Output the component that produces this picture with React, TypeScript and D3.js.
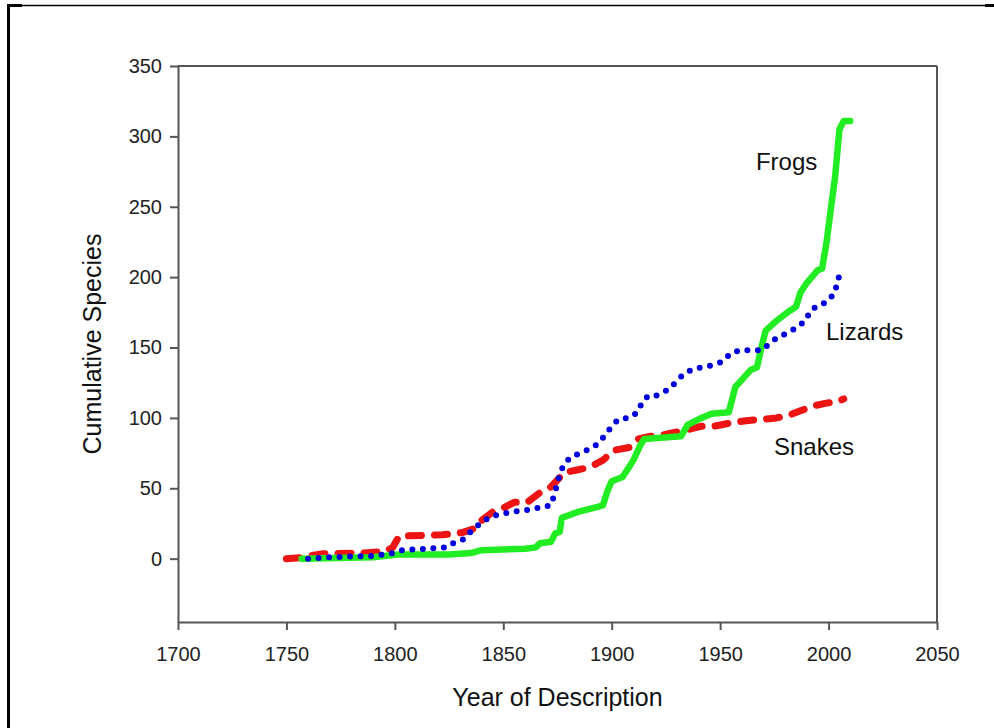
import React, { useEffect, useRef } from "react";
import * as d3 from "d3";

const frogYears = [1757, 1790, 1801, 1825, 1835, 1840, 1860, 1865, 1867, 1872, 1874, 1876, 1877, 1884, 1894, 1896, 1898, 1900, 1905, 1908, 1910, 1913, 1915, 1932, 1935, 1940, 1946, 1954, 1957, 1960, 1964, 1967, 1969, 1971, 1976, 1982, 1985, 1987, 1990, 1995, 1997, 1999, 2001, 2003, 2005, 2007, 2010];
const frogCounts = [0, 1, 3, 3, 4, 6, 7, 8, 11, 12, 18, 19, 29, 33, 37, 38, 48, 55, 58, 65, 70, 80, 85, 87, 95, 99, 103, 104, 122, 127, 134, 136, 150, 162, 169, 176, 179, 189, 196, 205, 206, 224, 248, 271, 305, 311, 311];

const lizardYears = [1760, 1770, 1790, 1799, 1803, 1824, 1827, 1832, 1836, 1844, 1853, 1863, 1872, 1874, 1876, 1878, 1881, 1890, 1894, 1900, 1903, 1908, 1912, 1914, 1917, 1921, 1926, 1930, 1933, 1938, 1942, 1948, 1951, 1955, 1959, 1969, 1973, 1977, 1981, 1986, 1990, 1991, 1995, 1999, 2003, 2004, 2006];
const lizardCounts = [0, 1, 2, 4, 6, 8, 11, 14, 21, 30, 33, 35, 38, 48, 60, 67, 72, 78, 82, 94, 99, 100, 104, 111, 116, 116, 120, 126, 131, 135, 136, 138, 140, 146, 148, 148, 153, 158, 160, 165, 170, 175, 180, 182, 189, 197, 205];

const snakeYears = [1750, 1759, 1761, 1767, 1785, 1795, 1799, 1802, 1822, 1831, 1836, 1839, 1845, 1850, 1855, 1861, 1867, 1872, 1878, 1884, 1890, 1896, 1901, 1908, 1912, 1918, 1924, 1930, 1936, 1941, 1947, 1955, 1962, 1970, 1976, 1982, 1987, 1993, 1999, 2004, 2007];
const snakeCounts = [0, 1, 2, 3.5, 4, 5, 8, 16, 17, 18.5, 21, 26, 33, 36, 40, 40, 47, 51, 61, 63, 65, 70, 77, 79, 85, 87, 88, 90, 92, 94, 94, 96.5, 98, 99, 100, 102, 105, 108.5, 110.5, 111.5, 113.5];

const xTicks = [1700, 1750, 1800, 1850, 1900, 1950, 2000, 2050];
const yTicks = [0, 50, 100, 150, 200, 250, 300, 350];

const FONT = "'Liberation Sans', Arial, sans-serif";

const App = () => {
  const xAxisRef = useRef<SVGGElement>(null);
  const yAxisRef = useRef<SVGGElement>(null);

  const left = 178, right = 937, top = 66, bottom = 622;

  const x = d3.scaleLinear().domain([1700, 2050]).range([left, right]);
  const y = d3.scaleLinear().domain([-45, 350]).range([bottom, top]);

  const line = d3.line<[number, number]>()
    .x(d => x(d[0]))
    .y(d => y(d[1]));

  const pairs = (xs: number[], ys: number[]) => xs.map((v, i) => [v, ys[i]] as [number, number]);

  useEffect(() => {
    const xa = d3.select(xAxisRef.current!);
    xa.selectAll("*").remove();
    xa.call(d3.axisBottom(x).tickValues(xTicks).tickFormat(d3.format("d")).tickSize(8).tickSizeOuter(0).tickPadding(17));

    const ya = d3.select(yAxisRef.current!);
    ya.selectAll("*").remove();
    ya.call(d3.axisLeft(y).tickValues(yTicks).tickSize(8).tickSizeOuter(0).tickPadding(8));

    [xa, ya].forEach(g => {
      g.selectAll("path, line").attr("stroke", "#555").attr("stroke-width", 2);
      g.selectAll("text").attr("font-size", 20).attr("font-family", FONT).attr("fill", "#222");
    });
  }, []);

  return (
    <svg width={994} height={728} style={{ position: "absolute", left: 0, top: 0, background: "#fff" }}>
      {/* page frame */}
      <line x1={7} x2={994} y1={5.5} y2={5.5} stroke="#000" strokeWidth={1.5} />
      <line x1={7} x2={22} y1={5.5} y2={5.5} stroke="#000" strokeWidth={3} />
      <line x1={985} x2={994} y1={5.5} y2={5.5} stroke="#000" strokeWidth={3} />
      <line x1={8.5} x2={8.5} y1={4} y2={728} stroke="#000" strokeWidth={3} />

      {/* plot box top and right */}
      <line x1={left} x2={right} y1={top} y2={top} stroke="#555" strokeWidth={2} />
      <line x1={right} x2={right} y1={top} y2={bottom} stroke="#555" strokeWidth={2} />

      <g ref={xAxisRef} transform={`translate(0,${bottom})`} />
      <g ref={yAxisRef} transform={`translate(${left},0)`} />

      <path d={line(pairs(snakeYears, snakeCounts)) || ""} fill="none" stroke="#ee1414" strokeWidth={7}
        strokeDasharray="13 13" strokeLinecap="round" strokeLinejoin="round" />
      <path d={line(pairs(frogYears, frogCounts)) || ""} fill="none" stroke="#22ec22" strokeWidth={6.5}
        strokeLinejoin="round" strokeLinecap="round" />
      <path d={line(pairs(lizardYears, lizardCounts)) || ""} fill="none" stroke="#0000dc" strokeWidth={6}
        strokeDasharray="0 10.5" strokeLinecap="round" />

      <g fontFamily={FONT} fontSize={24} fill="#111">
        <text x={x(1966.5)} y={y(276)}>Frogs</text>
        <text x={x(1998.8)} y={y(155)}>Lizards</text>
        <text x={x(1974.8)} y={y(73.5)}>Snakes</text>
      </g>

      <text x={(left + right) / 2} y={706} textAnchor="middle" fontFamily={FONT} fontSize={25} fill="#111">
        Year of Description
      </text>
      <text transform={`translate(101,${(top + bottom) / 2}) rotate(-90)`} textAnchor="middle"
        fontFamily={FONT} fontSize={25} fill="#111">
        Cumulative Species
      </text>
    </svg>
  );
};

export default App;
